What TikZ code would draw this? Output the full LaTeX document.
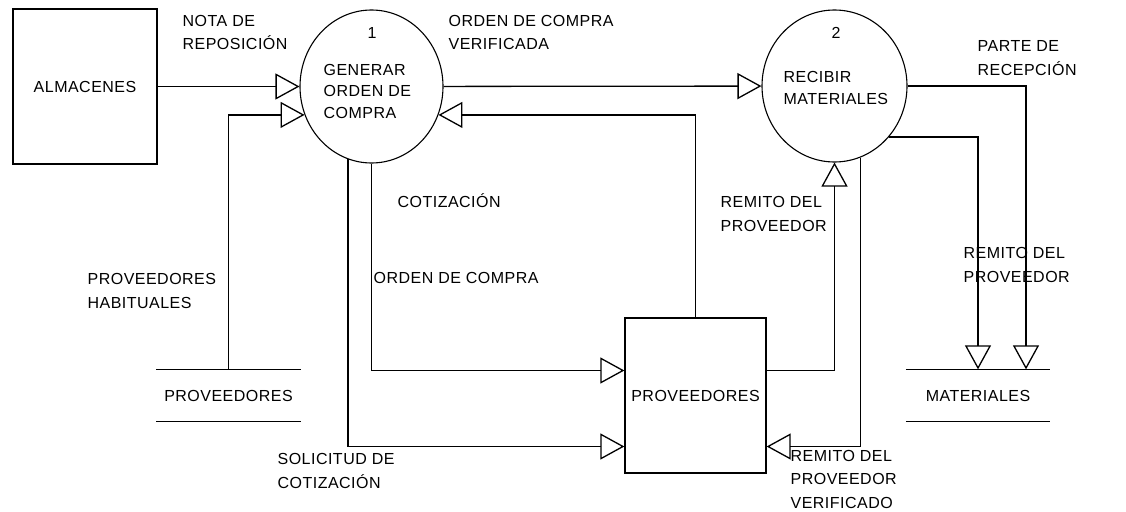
\documentclass[tikz,border=0pt]{standalone}
\usepackage{fontspec}
\setmainfont{Liberation Sans}[LetterSpace=3]
\usetikzlibrary{arrows.meta,shapes.geometric}

\begin{document}
\begin{tikzpicture}[x=1pt,y=-1pt,line width=1.3pt,
    flow/.style={-{Triangle[open,length=24pt,width=26pt]}},
    lbl/.style={anchor=base west,inner sep=0pt,align=left,font=\fontsize{16}{24}\selectfont},
    proc/.style={ellipse,draw=black,line width=1.1pt,minimum width=143pt,minimum height=153pt,inner sep=0pt},
    ent/.style={rectangle,draw=black,inner sep=0pt,font=\fontsize{16}{24}\selectfont},
    store/.style={inner sep=0pt,minimum width=143pt,minimum height=51pt,font=\fontsize{16}{24}\selectfont}]
    \useasboundingbox (0,0) rectangle (1126,511);

    \node[ent,minimum width=144pt,minimum height=155pt] (alm) at (85,86.5) {ALMACENES};
    \node[ent,minimum width=141pt,minimum height=155pt] (prov) at (695.5,395.5) {PROVEEDORES};

    \node[proc] (gen) at (371.5,86.5) {};
    \node[lbl,anchor=base] (gen num) at (372,38) {1};
    \node[lbl,font=\fontsize{16}{21.5}\selectfont] (gen txt) at (323,118) {GENERAR\\ORDEN DE\\COMPRA};

    \node[proc,minimum width=145pt,minimum height=152pt] (rec) at (834.5,86) {};
    \node[lbl,anchor=base] (rec num) at (836,38) {2};
    \node[lbl,font=\fontsize{16}{21.5}\selectfont] (rec txt) at (783,104) {RECIBIR\\MATERIALES};

    \node[store] (provs) at (228.5,395.5) {PROVEEDORES};
    \draw (provs.north west) -- (provs.north east);
    \draw (provs.south west) -- (provs.south east);

    \node[store] (mat) at (978,395.5) {MATERIALES};
    \draw (mat.north west) -- (mat.north east);
    \draw (mat.south west) -- (mat.south east);

    % labels (placed at the baseline of their last line)
    \node[lbl] (nota) at (182,50) {NOTA DE\\REPOSICIÓN};
    \node[lbl] (ocv) at (448,50) {ORDEN DE COMPRA\\VERIFICADA};
    \node[lbl] (parte) at (977,75) {PARTE DE\\RECEPCIÓN};
    \node[lbl] (coti) at (397,207) {COTIZACIÓN};
    \node[lbl] (habit) at (87,308) {PROVEEDORES\\HABITUALES};
    \node[lbl] (oc) at (373,283) {ORDEN DE COMPRA};
    \node[lbl] (rem a) at (720,231) {REMITO DEL\\PROVEEDOR};
    \node[lbl] (rem b) at (963,282) {REMITO DEL\\PROVEEDOR};
    \node[lbl] (sol) at (277,488) {SOLICITUD DE\\COTIZACIÓN};
    \node[lbl,font=\fontsize{16}{23.5}\selectfont] (rem c) at (790,508) {REMITO DEL\\PROVEEDOR\\VERIFICADO};

    % flows
    \draw[flow] (alm) -- (gen);
    \draw[flow] (provs.north) |- (gen.203);
    \draw[flow] (gen) -- (rec);
    \draw[flow] (prov.north) |- (gen.337);
    \draw[flow] (gen.south) |- ([yshift=25pt]prov.west);
    \draw[flow] (gen.252) |- ([yshift=-51pt]prov.west);
    \draw[flow] ([yshift=25pt]prov.east) -| (rec.south);
    \draw[flow] (rec.290) |- ([yshift=-51pt]prov.east);
    \draw[flow] (rec.317) -| (mat.north);
    \draw[flow] (rec.east) -| ([xshift=48pt]mat.north);
\end{tikzpicture}
\end{document}
